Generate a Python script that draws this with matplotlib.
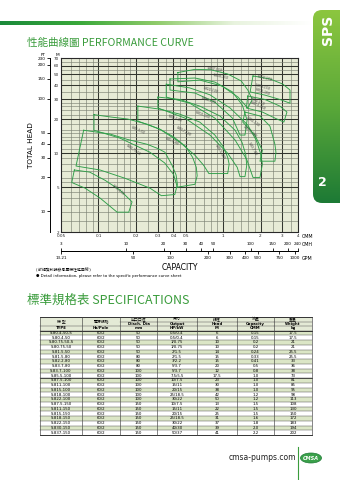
import matplotlib
matplotlib.use('Agg')
import numpy as np
import matplotlib.pyplot as plt
from matplotlib.colors import LinearSegmentedColormap
from matplotlib.patches import Rectangle, FancyBboxPatch, Ellipse
from matplotlib.ticker import NullLocator

plt.rcParams['font.family'] = ['DejaVu Sans', 'Noto Sans CJK TC']
CJK = ['Noto Sans CJK TC', 'DejaVu Sans']

# ---------------- data ----------------
cmm_ticks = [0.05, 0.1, 0.2, 0.3, 0.4, 0.5, 1, 2, 3, 4]
cmm_labels = ['0.05', '0.1', '0.2', '0.3', '0.4', '0.5', '1', '2', '3', '4']
m_ticks = [2, 5, 10, 20, 30, 40, 50, 60, 70]
ft_ticks = [10, 20, 30, 40, 50, 100, 150, 200, 230]
cmh_ticks = [3, 10, 20, 30, 40, 50, 100, 150, 200, 240]
gpm_ticks = [13.21, 50, 100, 200, 300, 400, 500, 750, 1000]
gpm_labels = ['13.21', '50', '100', '200', '300', '400', '500', '750', '1000']

# pump curve tiles (capacity CMM, head m): upper and lower boundary
t1_up_q = [0.064, 0.085, 0.113, 0.149, 0.186, 0.175]
t1_up_h = [7.1, 6.8, 5.75, 4.7, 3.7, 3.0]
t1_lo_q = [0.061, 0.078, 0.103, 0.141]
t1_lo_h = [5.5, 4.9, 4.0, 3.0]

t2_up_q = [0.076, 0.124, 0.169, 0.246, 0.30, 0.342, 0.39, 0.42, 0.43, 0.41]
t2_up_h = [16, 14.8, 13.3, 12.0, 11.0, 10.2, 7.8, 6.4, 5.3, 4.3]
t2_lo_q = [0.066, 0.103, 0.163, 0.259, 0.32]
t2_lo_h = [7.7, 7.1, 6.0, 4.9, 4.2]

t3_up_q = [0.092, 0.124, 0.172, 0.246, 0.312, 0.40, 0.50, 0.57, 0.61, 0.62, 0.595]
t3_up_h = [22, 21, 20.1, 18.1, 16.3, 14, 11.5, 9.2, 7.5, 6.3, 5.3]
t3_lo_q = [0.092, 0.149, 0.259, 0.34, 0.40, 0.43]
t3_lo_h = [16, 13.6, 10.2, 8.2, 6.5, 5.0]

t4_up_q = [0.207, 0.312, 0.451, 0.65, 0.86, 1.0, 1.09, 1.12, 1.09]
t4_up_h = [26.2, 24.6, 22.2, 18.9, 14.5, 11.5, 9.2, 8.0, 6.6]
t4_lo_q = [0.207, 0.312, 0.451, 0.595, 0.70, 0.77]
t4_lo_h = [19.3, 16.3, 12.5, 9.6, 7.8, 6.6]

t5_up_q = [0.30, 0.451, 0.65, 0.945, 1.25, 1.42, 1.52, 1.55, 1.5]
t5_up_h = [31.5, 30, 26.2, 21.4, 16, 12.5, 9.8, 7.8, 6.2]
t5_lo_q = [0.30, 0.495, 0.785, 1.09, 1.3, 1.37]
t5_lo_h = [25.2, 20.5, 14.5, 10, 7.5, 6.2]

t6_up_q = [0.35, 0.54, 0.785, 1.14, 1.58, 1.85, 2.0, 2.07, 1.98]
t6_up_h = [41, 38, 33, 25.2, 17.8, 13, 10, 8.0, 6.1]
t6_lo_q = [0.35, 0.54, 0.86, 1.25, 1.55, 1.74]
t6_lo_h = [31.5, 27.8, 20.5, 13.1, 8.8, 6.1]

t7_up_q = [0.375, 0.595, 0.86, 1.19, 1.43, 1.56, 1.5]
t7_up_h = [45.6, 46.5, 42.8, 35, 26.7, 19.7, 14.5]
t7_lo_q = [0.375, 0.595, 0.86, 1.19, 1.37]
t7_lo_h = [36.4, 34.2, 28.4, 20.5, 14.5]

t8_up_q = [0.434, 0.595, 0.80, 1.09, 1.4, 1.58, 1.72]
t8_up_h = [52, 55.5, 55, 50.5, 43.8, 36.4, 30]
t8_lo_q = [0.434, 0.65, 0.98, 1.32, 1.58]
t8_lo_h = [43, 44.6, 39.5, 31.5, 25.2]

r1_up_q = [1.74, 2.38, 3.02, 3.45, 3.45]
r1_up_h = [48.5, 45.6, 41.1, 36.4, 27.8]
r1_lo_q = [1.65, 2.17, 2.86, 3.45]
r1_lo_h = [35, 32.8, 30, 27.8]

r2_up_q = [1.58, 2.17, 2.86, 3.26, 3.08]
r2_up_h = [32.2, 30, 26.2, 23.2, 18.9]
r2_lo_q = [1.54, 2.07, 2.61, 3.08]
r2_lo_h = [25.2, 23.2, 20.5, 18.9]

r3_up_q = [1.50, 1.98, 2.38, 2.61, 2.66, 2.61]
r3_up_h = [23.2, 21.4, 17.4, 12.0, 10.2, 8.5]
r3_lo_q = [1.44, 1.80, 2.07, 1.98]
r3_lo_h = [18.9, 14.5, 10.6, 8.5]

tiles = [(t1_up_q, t1_up_h, t1_lo_q, t1_lo_h), (t2_up_q, t2_up_h, t2_lo_q, t2_lo_h),
         (t3_up_q, t3_up_h, t3_lo_q, t3_lo_h), (t4_up_q, t4_up_h, t4_lo_q, t4_lo_h),
         (t5_up_q, t5_up_h, t5_lo_q, t5_lo_h), (t6_up_q, t6_up_h, t6_lo_q, t6_lo_h),
         (t7_up_q, t7_up_h, t7_lo_q, t7_lo_h), (t8_up_q, t8_up_h, t8_lo_q, t8_lo_h),
         (r1_up_q, r1_up_h, r1_lo_q, r1_lo_h), (r2_up_q, r2_up_h, r2_lo_q, r2_lo_h),
         (r3_up_q, r3_up_h, r3_lo_q, r3_lo_h)]

curve_names = ['S-80.4-50', 'S-80.75-50', 'S-81.5-50', 'S-81.5-80', 'S-82.2-80', 'S-837-150',
               'S-830-150', 'S-822-100', 'S-818-100', 'S-815-100', 'S-83.7-100', 'S-822-150',
               'S-818-150', 'S-815-150', 'S-811-150', 'S-87.5-150', 'S-811-100', 'S-87.5-100',
               'S-85.5-100', 'S-83.7-80']
curve_name_q = [0.143, 0.189, 0.207, 0.389, 0.41, 0.85, 0.96, 0.80, 0.77, 0.69, 0.485, 2.17,
                2.09, 2.09, 1.87, 1.92, 1.74, 1.65, 0.945, 1.71]
curve_name_h = [4.7, 10.6, 16, 12.8, 20.5, 55, 47.5, 36.4, 29.6, 21.8, 15.7, 46.5,
                39, 35, 29, 26.2, 18.9, 15.4, 10.2, 10.9]
curve_name_rot = [-40, -35, -25, -25, -20, -10, -12, -15, -18, -22, -30, -15,
                  -15, -20, -25, -25, -35, -40, -60, -60]

# specifications table
spec_type = ['S-80.4-50-S', 'S-80.4-50', 'S-80.75-50-S', 'S-80.75-50', 'S-81.5-50', 'S-81.5-80',
             'S-82.2-80', 'S-83.7-80', 'S-83.7-100', 'S-85.5-100', 'S-87.5-100', 'S-811-100',
             'S-815-100', 'S-818-100', 'S-822-100', 'S-87.5-150', 'S-811-150', 'S-815-150',
             'S-818-150', 'S-822-150', 'S-830-150', 'S-837-150']
spec_hz_pole = ['60/2'] * 22
spec_dia = ['50', '50', '50', '50', '50', '80', '80', '80', '100', '100', '100', '100',
            '100', '100', '100', '150', '150', '150', '150', '150', '150', '150']
spec_output = ['0.5/0.4', '0.5/0.4', '1/0.75', '1/0.75', '2/1.5', '2/1.5', '3/2.2', '5/3.7',
               '5/3.7', '7.5/5.5', '10/7.5', '15/11', '20/15', '25/18.5', '30/22', '10/7.5',
               '15/11', '20/15', '25/18.5', '30/22', '40/30', '50/37']
spec_head = ['6', '6', '10', '10', '14', '15', '15', '20', '12', '17.5', '23', '30',
             '38', '42', '50', '13', '22', '25', '31', '37', '39', '41']
spec_cap = ['0.15', '0.15', '0.2', '0.2', '0.24', '0.33', '0.41', '0.5', '0.8', '1.0', '1.0', '1.0',
            '1.0', '1.2', '1.2', '1.5', '1.5', '1.5', '1.6', '1.8', '2.0', '2.2']
spec_weight = ['17.5', '17.5', '21', '21', '25.5', '25.5', '33', '36', '38', '73', '81', '85',
               '95', '98', '113', '108', '130', '150', '172', '183', '194', '202']
head_cn = ['機 型', '電源規格', '出口口徑', '馬力', '揚程', '流量', '重量']
head_en = ['', '', 'Disch. Dia', 'Output', 'Head', 'Capacity', 'Weight']
head_unit = ['TYPE', 'Hz/Pole', 'mm', 'HP/kW', 'M', 'CMM', 'kg']

# ---------------- figure ----------------
W, H = 340, 480
fig = plt.figure(figsize=(3.4, 4.8), dpi=100)
bg = fig.add_axes([0, 0, 1, 1])
bg.set_xlim(0, W)
bg.set_ylim(H, 0)
bg.axis('off')
bg.set_zorder(0)

# header gradient bar
cm_bar = LinearSegmentedColormap.from_list('bar', ['#1b8a3a', '#39a83a', '#8fcb6a', '#e8f3de', '#ffffff'])
bg.imshow(np.linspace(0, 1, 256)[None, :], cmap=cm_bar, aspect='auto', extent=(0, 312, 25, 21), zorder=1)

# right tab
cm_tab = LinearSegmentedColormap.from_list('tab', ['#8cc63f', '#5aa839', '#1d7a35'])
tab = FancyBboxPatch((313, 10), 40, 193, boxstyle='round,pad=0,rounding_size=9',
                     transform=bg.transData, facecolor='none', edgecolor='none')
bg.add_patch(tab)
im = bg.imshow(np.linspace(0, 1, 256)[:, None], cmap=cm_tab, aspect='auto',
               extent=(313, 345, 203, 10), zorder=1)
im.set_clip_path(tab)
bg.text(328, 30, 'SPS', rotation=90, color='white', fontsize=10, fontweight='bold',
        ha='center', va='center', zorder=3)
bg.text(322, 182, '2', color='white', fontsize=9, fontweight='bold', ha='center', va='center', zorder=3)

# titles
green = '#3a9c3c'
bg.text(27, 43, '性能曲線圖 PERFORMANCE CURVE', family=CJK, fontsize=7.6, color=green, va='center', ha='left')
bg.text(27, 300, '標準規格表 SPECIFICATIONS', family=CJK, fontsize=9, color=green, va='center', ha='left')

# ---------------- chart ----------------
ax = fig.add_axes([61 / W, 1 - 232 / H, 237 / W, 174 / H])
ax.set_zorder(2)
ax.set_xscale('log')
ax.set_yscale('log')
ax.set_xlim(0.05, 4)
ax.set_ylim(2, 70)
ax.set_facecolor('#e7ebd6')
for v in [0.06, 0.07, 0.08, 0.09, 0.12, 0.14, 0.16, 0.18, 0.25, 0.35, 0.45, 0.6, 0.7, 0.8, 0.9,
          1.2, 1.4, 1.6, 1.8, 2.5, 3.5]:
    ax.axvline(v, color='#7c8274', lw=0.45, zorder=1)
for v in [0.1, 0.2, 0.3, 0.4, 0.5, 1, 2, 3]:
    ax.axvline(v, color='#33362f', lw=0.75, zorder=1)
for v in [2.5, 3, 3.5, 4, 4.5, 5.5, 6, 7, 8, 9, 11, 12, 13, 14, 15, 16, 18, 22, 24, 26, 28,
          35, 45, 55, 65]:
    ax.axhline(v, color='#7c8274', lw=0.45, zorder=1)
for v in [5, 10, 20, 30, 40, 50, 60]:
    ax.axhline(v, color='#33362f', lw=0.75, zorder=1)

for uq, uh, lq, lh in tiles:
    xs = list(uq) + list(lq)[::-1] + [uq[0]]
    ys = list(uh) + list(lh)[::-1] + [uh[0]]
    ax.plot(xs, ys, color='#2e9e48', lw=0.65, zorder=3, solid_joinstyle='round')

for name, q, h, r in zip(curve_names, curve_name_q, curve_name_h, curve_name_rot):
    ax.text(q, h, name, fontsize=2.2, color='#333333', rotation=r, ha='center', va='center', zorder=4)

ax.set_xticks(cmm_ticks)
ax.set_xticklabels(cmm_labels)
ax.set_yticks(m_ticks)
ax.set_yticklabels([str(v) for v in m_ticks])
ax.xaxis.set_minor_locator(NullLocator())
ax.yaxis.set_minor_locator(NullLocator())
ax.tick_params(axis='both', length=0, labelsize=3, pad=1.5, labelcolor='#222222')
for s in ax.spines.values():
    s.set_color('#2a2a2a')
    s.set_linewidth(0.8)

# FT axis
axf = fig.add_axes([50 / W, 1 - 232 / H, 11 / W, 174 / H])
axf.set_zorder(1)
axf.patch.set_alpha(0)
axf.set_yscale('log')
axf.set_ylim(2 * 3.28084, 70 * 3.28084)
axf.set_yticks(ft_ticks)
axf.set_yticklabels([str(v) for v in ft_ticks])
axf.yaxis.set_minor_locator(NullLocator())
axf.set_xticks([])
for k in ['right', 'top', 'bottom']:
    axf.spines[k].set_visible(False)
axf.spines['left'].set_linewidth(0.7)
axf.tick_params(axis='y', length=2, width=0.6, labelsize=3, pad=1)

bg.text(43, 54.5, 'FT', fontsize=3.2, ha='center', va='center')
bg.text(57, 54.5, 'M', fontsize=3.2, ha='center', va='center')
bg.text(31, 145, 'TOTAL HEAD', rotation=90, fontsize=5.2, ha='center', va='center')

# capacity scales
axc = fig.add_axes([61 / W, 1 - 251 / H, 237 / W, 0.0001])
axc.set_xscale('log')
axc.set_xlim(0.05, 4)
axc.set_yticks([])
for k in ['left', 'right', 'top']:
    axc.spines[k].set_visible(False)
axc.spines['bottom'].set_linewidth(0.7)
axc.xaxis.set_ticks_position('top')
axc.xaxis.set_label_position('top')
axc.set_xticks([v / 60 for v in cmh_ticks])
axc.set_xticklabels([str(v) for v in cmh_ticks])
axc.xaxis.set_minor_locator(NullLocator())
axc.tick_params(axis='x', length=2.5, width=0.6, labelsize=3, pad=1)
sec = axc.secondary_xaxis('bottom', functions=(lambda x: x * 264.172, lambda x: x / 264.172))
sec.set_xticks(gpm_ticks)
sec.set_xticklabels(gpm_labels)
sec.xaxis.set_minor_locator(NullLocator())
sec.tick_params(axis='x', length=2.5, width=0.6, labelsize=3, pad=1)
sec.spines['bottom'].set_linewidth(0.7)

bg.text(302, 236, 'CMM', fontsize=3.4, ha='left', va='center')
bg.text(302, 245, 'CMH', fontsize=3.4, ha='left', va='center')
bg.text(302, 258, 'GPM', fontsize=3.4, ha='left', va='center')
bg.text(180, 267, 'CAPACITY', fontsize=5.5, ha='center', va='center')
bg.text(36, 270, '( 詳細資料請參考單機性能曲線 )', family=CJK, fontsize=2.8, ha='left', va='center')
bg.text(36, 275.5, '● Detail information, please refer to the specific performance curve sheet',
        fontsize=2.8, ha='left', va='center')

# ---------------- table ----------------
col_x = [40, 82, 120, 157, 197, 237, 274, 312]
row_h = (435 - 330.5) / len(spec_type)
bg.add_patch(Rectangle((40, 317), 272, 13.5, facecolor='#e4ead6', edgecolor='none', zorder=1))
for i in range(len(spec_type)):
    y0 = 330.5 + i * row_h
    fc = '#dbe6c6' if i % 2 == 0 else '#ffffff'
    bg.add_patch(Rectangle((40, y0), 272, row_h, facecolor=fc, edgecolor='none', zorder=1))
    vals = [spec_type[i], spec_hz_pole[i], spec_dia[i], spec_output[i], spec_head[i], spec_cap[i], spec_weight[i]]
    for j, v in enumerate(vals):
        bg.text((col_x[j] + col_x[j + 1]) / 2, y0 + row_h / 2, v, fontsize=2.8, ha='center', va='center', zorder=3)
    bg.plot([40, 312], [y0, y0], color='#555555', lw=0.35, zorder=2)
bg.plot([40, 312], [435, 435], color='#333333', lw=0.7, zorder=2)
bg.plot([40, 312], [317, 317], color='#333333', lw=0.7, zorder=2)
bg.plot([40, 312], [330.5, 330.5], color='#333333', lw=0.7, zorder=2)
bg.plot([40, 312], [330.5 + 10 * row_h] * 2, color='#333333', lw=0.6, zorder=2)
for j in range(2, 7):
    bg.plot([col_x[j], col_x[j + 1]], [321.5, 321.5], color='#555555', lw=0.35, zorder=2)
    bg.plot([col_x[j], col_x[j + 1]], [326, 326], color='#555555', lw=0.35, zorder=2)
bg.plot([col_x[0], col_x[2]], [326, 326], color='#555555', lw=0.35, zorder=2)
for x in col_x:
    bg.plot([x, x], [317, 435], color='#444444', lw=0.45, zorder=2)
for j in range(7):
    cx = (col_x[j] + col_x[j + 1]) / 2
    if j < 2:
        bg.text(cx, 321.7, head_cn[j], family=CJK, fontsize=2.8, ha='center', va='center', zorder=3)
    else:
        bg.text(cx, 319.3, head_cn[j], family=CJK, fontsize=2.8, ha='center', va='center', zorder=3)
        bg.text(cx, 323.8, head_en[j], fontsize=2.8, ha='center', va='center', fontweight='bold', zorder=3)
    bg.text(cx, 328.3, head_unit[j], fontsize=2.8, ha='center', va='center', fontweight='bold', zorder=3)

# footer
bg.text(296, 458, 'cmsa-pumps.com', fontsize=5.5, ha='right', va='center', color='#222222')
bg.plot([298, 298], [447, 480], color='#3a9c3c', lw=0.8)
bg.add_patch(Ellipse((311, 458), 21, 10, facecolor='#3aa04a', edgecolor='#1d7a35', lw=0.5, zorder=3))
bg.text(311, 458, 'CMSA', fontsize=3.6, color='white', fontweight='bold', style='italic',
        ha='center', va='center', zorder=4)

fig.savefig('out.png', dpi=100)
